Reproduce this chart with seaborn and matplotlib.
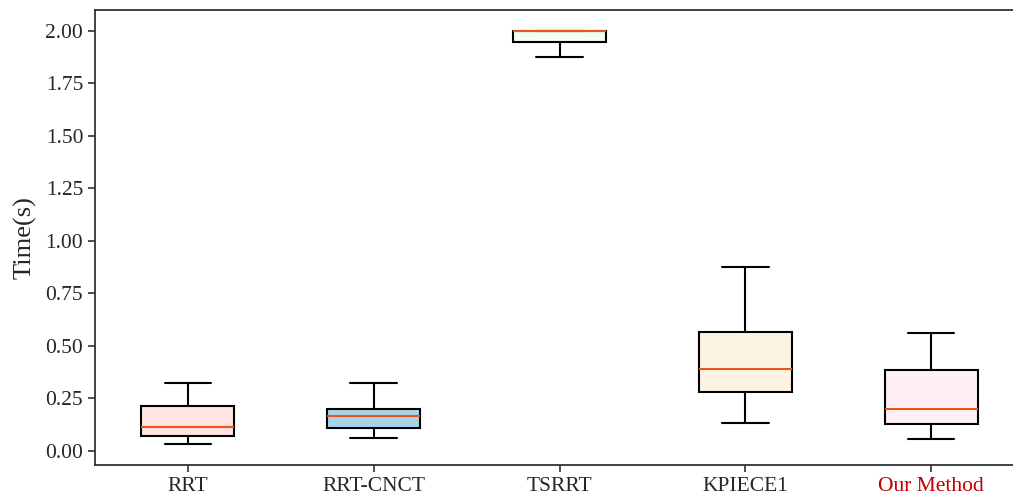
import numpy as np
import matplotlib.pyplot as plt
import seaborn as sns
import pandas as pd

# planners and their box statistics (whislo, q1, median, q3, whishi)
methods = ['RRT', 'RRT-CNCT', 'TSRRT', 'KPIECE1', 'Our Method']
rrt = [0.033, 0.071, 0.113, 0.216, 0.322]
rrt_cnct = [0.063, 0.111, 0.165, 0.199, 0.325]
tsrrt = [1.876, 1.949, 2.0, 2.0, 2.0]
kpiece1 = [0.133, 0.280, 0.389, 0.567, 0.875]
our_method = [0.057, 0.127, 0.200, 0.384, 0.562]
box_colors = ['#FFE4E1', '#A9D4E8', '#F0FFF0', '#FDF3E4', '#FFF0F5']
ytick_labels = ['0.00', '0.25', '0.50', '0.75', '1.00', '1.25', '1.50', '1.75', '2.00']

df = pd.DataFrame({
    'method': np.repeat(methods, 5),
    'time': rrt + rrt_cnct + tsrrt + kpiece1 + our_method,
})

sns.set_style('ticks')
plt.rcParams['font.family'] = ['Liberation Serif', 'DejaVu Serif']

fig = plt.figure(figsize=(10.13, 4.96), dpi=100)
# right spine falls outside the figure, as in the cropped original
ax = fig.add_axes([95 / 1013, 31 / 496, 929 / 1013, 455 / 496])

sns.boxplot(data=df, x='method', y='time', hue='method', palette=box_colors,
            saturation=1, legend=False, whis=(0, 100), width=0.5, ax=ax,
            linecolor='black', linewidth=1.5,
            medianprops={'color': '#E8561C', 'linewidth': 1.5},
            capprops={'color': 'black', 'linewidth': 1.5},
            whiskerprops={'color': 'black', 'linewidth': 1.5})

ax.set_xlim(-0.5, 4.5)
ax.set_ylim(-0.067, 2.1)
ax.set_yticks([float(t) for t in ytick_labels])
ax.set_yticklabels(ytick_labels)
ax.set_xlabel('')
ax.set_ylabel('Time(s)', fontsize=19, labelpad=6)
ax.tick_params(axis='both', labelsize=15.5, length=5, width=1.2, color='#333333')
for s in ax.spines.values():
    s.set_linewidth(1.3)
    s.set_color('#333333')
ax.get_xticklabels()[4].set_color('#C00000')

fig.savefig('out.png', dpi=100)
